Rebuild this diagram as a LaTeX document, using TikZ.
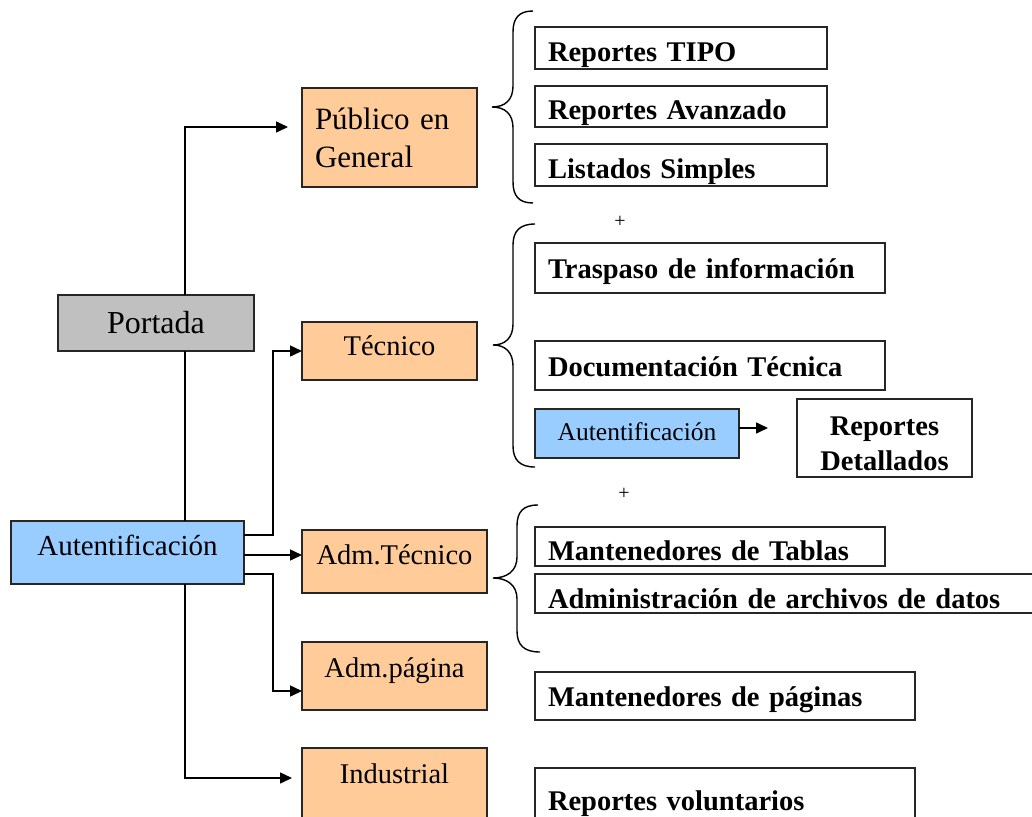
\documentclass[tikz,border=0pt]{standalone}
\usepackage{fontspec}
\setmainfont{Liberation Serif}
\usetikzlibrary{calc}
\usetikzlibrary{arrows.meta}
\definecolor{orangebox}{HTML}{FFCC99}
\definecolor{bluebox}{HTML}{99CCFF}
\definecolor{graybox}{HTML}{C0C0C0}
\tikzstyle{basebox}=[draw=black!85, line width=1.4pt, shape=rectangle, inner sep=0pt, outer sep=0pt]
\tikzstyle{optbox}=[basebox, fill=orangebox, font=\fontsize{28.5}{34}\selectfont]
\tikzstyle{authbox}=[basebox, fill=bluebox]
\tikzstyle{itembox}=[basebox, fill=white, anchor=west, align=left, inner xsep=13pt, font=\fontsize{28.5}{34}\selectfont\bfseries]
\tikzstyle{plusmark}=[inner sep=0pt, font=\fontsize{20}{22}\selectfont]
\tikzstyle{link}=[line width=1.5pt, color=black]
\tikzstyle{arw}=[link, -{Triangle[length=12pt, width=11pt]}]
\tikzstyle{brace}=[line width=1.4pt, color=black]
\tikzset{bl/.style={text height=#1, text depth=0pt}}

\begin{document}
\begin{tikzpicture}[x=1pt, y=-1pt]
\useasboundingbox (0,0) rectangle (1032,816);

\node [basebox, fill=graybox, minimum width=196pt, minimum height=56pt, bl=20pt, font=\fontsize{32}{36}\selectfont] (portada) at (156,323) {Portada};
\node [authbox, minimum width=233pt, minimum height=63pt, bl=5pt, font=\fontsize{29}{34}\selectfont] (auth) at (127.5,552.5) {Autentificaci\'on};

\node [optbox, anchor=west, align=left, inner xsep=13pt, text width=149pt, minimum height=99pt, font=\fontsize{31}{38}\selectfont] (publico) at (302,137.5) {P\'ublico en\\General};
\node [optbox, minimum width=175pt, minimum height=58pt, bl=8pt] (tecnico) at (389.5,351) {T\'ecnico};
\node [optbox, minimum width=185pt, minimum height=63pt, bl=5pt] (admtec) at (394.5,561.5) {Adm.T\'ecnico};
\node [optbox, minimum width=185pt, minimum height=68pt, bl=2pt] (admpag) at (394.5,676) {Adm.p\'agina};
\node [optbox, minimum width=185pt, minimum height=82pt, text height=0pt, text depth=12pt] (industrial) at (394.5,789) {Industrial};

\node [itembox, text width=266pt, minimum height=42pt, bl=28pt] (tipo) at (535,48) {Reportes TIPO};
\node [itembox, text width=266pt, minimum height=41pt, bl=25pt] (avanzado) at (535,106.5) {Reportes Avanzado};
\node [itembox, text width=266pt, minimum height=42pt, bl=26pt] (listados) at (535,165) {Listados Simples};

\node [plusmark] (plusA) at (620,222) {+};
\node [itembox, text width=324pt, minimum height=50pt, bl=20pt] (traspaso) at (535,268) {Traspaso de informaci\'on};
\node [itembox, text width=324pt, minimum height=49pt, bl=21pt] (documentacion) at (535,365.5) {Documentaci\'on T\'ecnica};
\node [authbox, minimum width=204pt, minimum height=49pt, bl=13pt, font=\fontsize{25.5}{30}\selectfont] (authsmall) at (637,433.5) {Autentificaci\'on};
\node [basebox, fill=white, minimum width=175pt, minimum height=78pt, align=center, text height=65pt, font=\fontsize{28.5}{35}\selectfont\bfseries] (detallados) at (884.5,438) {Reportes\\Detallados};

\node [plusmark] (plusB) at (624,494) {+};
\node [itembox, text width=324pt, minimum height=39pt, bl=27pt] (tablas) at (535,546.5) {Mantenedores de Tablas};
\node [itembox, text width=500pt, minimum height=39pt, bl=29pt] (archivos) at (535,593.5) {Administraci\'on de archivos de datos};
\node [itembox, text width=354pt, minimum height=48pt, bl=21pt] (paginas) at (535,696) {Mantenedores de p\'aginas};
\node [itembox, text width=354pt, minimum height=64pt, bl=20pt] (voluntarios) at (535,800) {Reportes voluntarios};

\coordinate (trunk) at (185,0);
\coordinate (pubin) at (288,127);
\coordinate (indin) at (292,778);
\coordinate (detin) at (768,428);

\draw[arw] (portada.north -| trunk) |- (pubin);
\draw[link] (portada.south -| trunk) -- (auth.north -| trunk);
\draw[arw] (auth.south -| trunk) |- (indin);
\draw[arw] ($(auth.east)+(0,-17.5)$) -| ($(tecnico.west)+(-29,0)$) -- (tecnico.west);
\draw[arw] ($(auth.east)+(0,2.5)$) -- ($(admtec.west)+(0,-6.5)$);
\draw[arw] ($(auth.east)+(0,21.5)$) -| ($(admpag.west)+(-29,15)$) -- ($(admpag.west)+(0,15)$);
\draw[arw] (authsmall.east |- detin) -- (detin);

\draw[brace] (533,11) .. controls (519,11) and (513,18) .. (513,32) -- (513,86) .. controls (513,100) and (505,107) .. (492,107) .. controls (505,107) and (513,114) .. (513,128) -- (513,182) .. controls (513,196) and (519,203) .. (533,203);
\draw[brace] (535,224) .. controls (520,224) and (513,231) .. (513,245) -- (513,324) .. controls (513,338) and (505,345) .. (493,345) .. controls (505,345) and (513,352) .. (513,366) -- (513,446) .. controls (513,460) and (520,467) .. (535,467);
\draw[brace] (538,505) .. controls (523,505) and (517,512) .. (517,526) -- (517,557) .. controls (517,571) and (507,578) .. (493,578) .. controls (507,578) and (517,585) .. (517,599) -- (517,631) .. controls (517,645) and (524,652) .. (540,652);
\end{tikzpicture}
\end{document}
